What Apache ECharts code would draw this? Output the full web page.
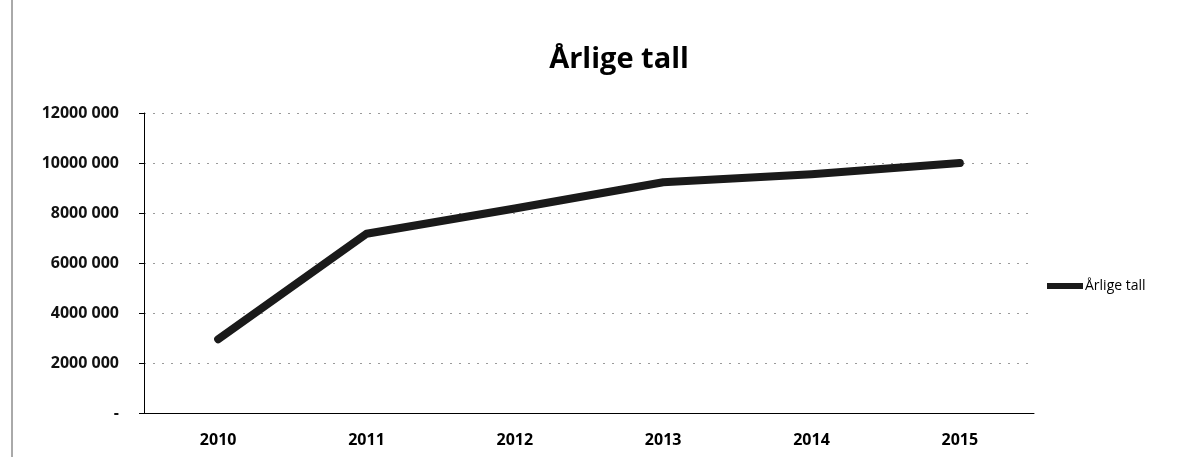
<!DOCTYPE html>
<html><head><meta charset="utf-8">
<script src="https://cdn.jsdelivr.net/npm/echarts@6/dist/echarts.min.js"></script>
<style>html,body{margin:0;padding:0;background:#fff}#c{width:1204px;height:457px}</style>
</head><body><div id="c"></div>
<script>
const categories = ['2010','2011','2012','2013','2014','2015'];
const seriesName = 'Årlige tall';
const values = [2950000, 7170000, 8180000, 9230000, 9550000, 10000000];
const yTicks = [0, 2000000, 4000000, 6000000, 8000000, 10000000, 12000000];

function fmt(v){
  if (v === 0) return '-';
  const s = String(v);
  return s.slice(0, s.length-3) + ' ' + s.slice(s.length-3);
}

const chart = echarts.init(document.getElementById('c'));
chart.setOption({
  animation:false,
  backgroundColor:'#fff',
  title:{text:'Årlige tall', left:614, top:40, textAlign:'center',
    textStyle:{fontFamily:'Open Sans', fontWeight:'bold', fontSize:29, color:'#000'}},
  legend:{data:[seriesName], left:1042, top:274, orient:'vertical', itemWidth:36, itemHeight:8, itemGap:0,
    icon:'path://M0,1 L36,1 L36,7 L0,7 Z',
    textStyle:{fontFamily:'Open Sans', fontSize:14, color:'#000', padding:[0,0,0,-3]}},
  grid:{left:144, right:170, top:113, bottom:44, containLabel:false},
  xAxis:{type:'category', data:categories, boundaryGap:true,
    axisLine:{lineStyle:{color:'#000', width:1}},
    axisTick:{show:false},
    axisLabel:{margin:19, fontFamily:'Open Sans', fontWeight:'bold', fontSize:16, color:'#000'}},
  yAxis:{type:'value', min:0, max:12000000, interval:2000000,
    axisLine:{show:true, lineStyle:{color:'#000', width:1}},
    axisTick:{show:true, length:5, lineStyle:{color:'#000'}},
    splitLine:{show:true, lineStyle:{color:'#9a9a9a', type:[2,7], width:1}},
    axisLabel:{margin:25, formatter:fmt, fontFamily:'Open Sans', fontWeight:'bold', fontSize:16, color:'#111'}},
  series:[{name:seriesName, type:'line', data:values, symbol:'none',
    lineStyle:{color:'#1a1a1a', width:8, cap:'round', join:'round'},
    itemStyle:{color:'#1a1a1a'}}],
  graphic:[{type:'line', shape:{x1:12, y1:0, x2:12, y2:457}, style:{stroke:'#555', lineWidth:1}}]
});
</script></body></html>
